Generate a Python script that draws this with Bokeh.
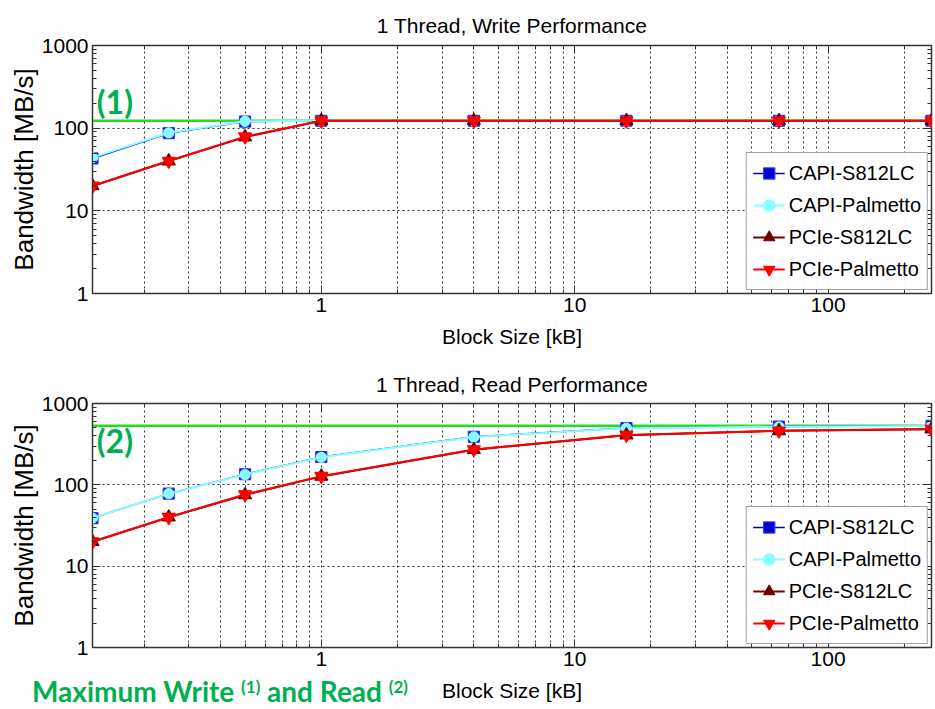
from bokeh.plotting import figure
from bokeh.layouts import column
from bokeh.models import (FixedTicker, PrintfTickFormatter, LogAxis, Range1d, Label,
                          Legend, LegendItem, Span, Div)
from bokeh.embed import file_html
from bokeh.resources import INLINE

# ---------------- data ----------------
block_kb = [0.125, 0.25, 0.5, 1, 4, 16, 64, 256]

write_capi_s812 = [43, 87, 120, 123, 123, 123, 123, 123]
write_capi_palm = [44, 88, 121, 123, 123, 123, 123, 123]
write_pcie_s812 = [20, 40, 78, 123, 123, 123, 123, 123]
write_pcie_palm = [20, 40, 79, 123, 123, 123, 123, 123]
write_max = 123

read_capi_s812 = [39, 78, 135, 220, 390, 500, 520, 530]
read_capi_palm = [39, 78, 134, 218, 388, 498, 518, 528]
read_pcie_s812 = [20, 40, 75, 127, 270, 408, 461, 484]
read_pcie_palm = [20, 40, 76, 128, 272, 410, 462, 485]
read_max = 532

series_names = ["CAPI-S812LC", "CAPI-Palmetto", "PCIe-S812LC", "PCIe-Palmetto"]
x_major = [1, 10, 100]
x_minor = [m * d for d in (0.1, 1, 10) for m in range(2, 10)] + [200]
y_major = [1, 10, 100, 1000]
y_minor = [m * d for d in (1, 10, 100) for m in range(2, 10)]

FONT = "Liberation Sans"
GREEN_TXT = "#00B050"
GREEN_LINE = "#22DD22"

styles = [
    dict(line_color="#0000CC", line_width=1.5, marker="square", size=11,
         fill_color="#0000CC", mline="#3333FF"),
    dict(line_color="#88FFFF", line_width=2, marker="circle", size=10,
         fill_color="#88FFFF", mline="#88FFFF"),
    dict(line_color="#7A0000", line_width=2, marker="triangle", size=13,
         fill_color="#6A0000", mline="#6A0000"),
    dict(line_color="#FF0000", line_width=2, marker="inverted_triangle", size=13,
         fill_color="#FF0000", mline="#FF0000"),
]


def make_fig(title, series, maxval, tag, tag_y, height, top, bottom, title_standoff):
    p = figure(width=933, height=height, x_axis_type="log", y_axis_type="log",
               x_range=Range1d(0.125, 256), y_range=Range1d(1, 1000),
               output_backend="svg", toolbar_location=None,
               min_border_left=92, min_border_right=2,
               min_border_top=top, min_border_bottom=bottom,
               x_axis_label="Block Size [kB]", y_axis_label="Bandwidth [MB/s]")
    p.title.text = title
    p.title.align = "center"
    p.title.text_font = FONT
    p.title.text_font_size = "21px"
    p.title.text_font_style = "normal"
    p.title.text_color = "black"
    p.title.standoff = title_standoff
    p.outline_line_color = "#333333"
    p.outline_line_width = 1.5

    xt = FixedTicker(ticks=x_major, minor_ticks=x_minor)
    yt = FixedTicker(ticks=y_major, minor_ticks=y_minor)
    for ax, tk in ((p.xaxis[0], xt), (p.yaxis[0], yt)):
        ax.ticker = tk
        ax.formatter = PrintfTickFormatter(format="%d")
        ax.major_label_text_font = FONT
        ax.major_label_text_font_size = "21px"
        ax.major_label_text_color = "black"
        ax.axis_label_text_font = FONT
        ax.axis_label_text_font_style = "normal"
        ax.axis_label_text_color = "black"
        ax.axis_line_color = "#333333"
        ax.major_tick_in = 8
        ax.major_tick_out = 0
        ax.minor_tick_in = 4
        ax.minor_tick_out = 0
        ax.major_tick_line_color = "#333333"
        ax.minor_tick_line_color = "#333333"
        ax.major_label_standoff = 4
    p.xaxis[0].axis_label_text_font_size = "21px"
    p.xaxis[0].axis_label_standoff = 10
    p.yaxis[0].axis_label_text_font_size = "26px"
    p.yaxis[0].axis_label_standoff = 0

    # mirrored axes (ticks only)
    for side, tk in (("right", yt), ("above", xt)):
        ax = LogAxis(ticker=tk, major_label_text_color=None,
                     major_label_text_font_size="6px",
                     major_label_standoff=0, axis_line_color=None,
                     major_tick_in=8, major_tick_out=0, minor_tick_in=4, minor_tick_out=0,
                     major_tick_line_color="#333333", minor_tick_line_color="#333333")
        p.add_layout(ax, side)

    p.xgrid.ticker = xt
    p.ygrid.ticker = yt
    for g in (p.xgrid[0], p.ygrid[0]):
        g.grid_line_color = "black"
        g.grid_line_alpha = 0.8
        g.grid_line_dash = "2 3"
        g.grid_line_width = 1
    p.xgrid.minor_grid_line_color = "black"
    p.xgrid.minor_grid_line_alpha = 0.8
    p.xgrid.minor_grid_line_dash = "2 3"

    p.add_layout(Span(location=maxval, dimension="width", line_color=GREEN_LINE,
                      line_width=2.5, level="underlay"))

    items = []
    for name, vals, st in zip(series_names, series, styles):
        lr = p.line(block_kb, vals, line_color=st["line_color"], line_width=st["line_width"])
        sr = p.scatter(block_kb, vals, marker=st["marker"], size=st["size"],
                       fill_color=st["fill_color"], line_color=st["mline"], line_width=1.2)
        items.append(LegendItem(label=name, renderers=[lr, sr]))

    leg = Legend(items=items, location="bottom_right")
    leg.label_text_font = FONT
    leg.label_text_font_size = "20px"
    leg.label_text_color = "black"
    leg.glyph_width = 32
    leg.glyph_height = 28
    leg.label_height = 28
    leg.spacing = 4
    leg.padding = 6
    leg.margin = 3
    leg.label_standoff = 4
    leg.border_line_color = "#444444"
    leg.border_line_width = 1
    p.add_layout(leg, "center")

    p.add_layout(Label(x=0.13, y=tag_y, text=tag, text_font="Lato", text_font_size="32px",
                       text_font_style="bold", text_color=GREEN_TXT, text_baseline="middle"))
    return p


p1 = make_fig("1 Thread, Write Performance",
              [write_capi_s812, write_capi_palm, write_pcie_s812, write_pcie_palm],
              write_max, "(1)", 212, 360, 45, 67, 18)
p2 = make_fig("1 Thread, Read Performance",
              [read_capi_s812, read_capi_palm, read_pcie_s812, read_pcie_palm],
              read_max, "(2)", 347, 348, 43, 61, 16)

caption = Div(
    text=('<div style="font-family: Lato, Calibri, sans-serif; font-weight: bold; '
          'font-size: 28px; line-height: 34px; color: %s; white-space: nowrap;">'
          'Maximum Write <sup style="font-size: 17px; line-height: 0; vertical-align: 9px;">(1)</sup>'
          ' and Read '
          '<sup style="font-size: 17px; line-height: 0; vertical-align: 9px;">(2)</sup></div>') % GREEN_TXT,
    width=420, height=34, margin=(-34, 0, 0, 32))

layout = column(p1, p2, caption, spacing=0)
open("out.html", "w").write(file_html(layout, INLINE))
